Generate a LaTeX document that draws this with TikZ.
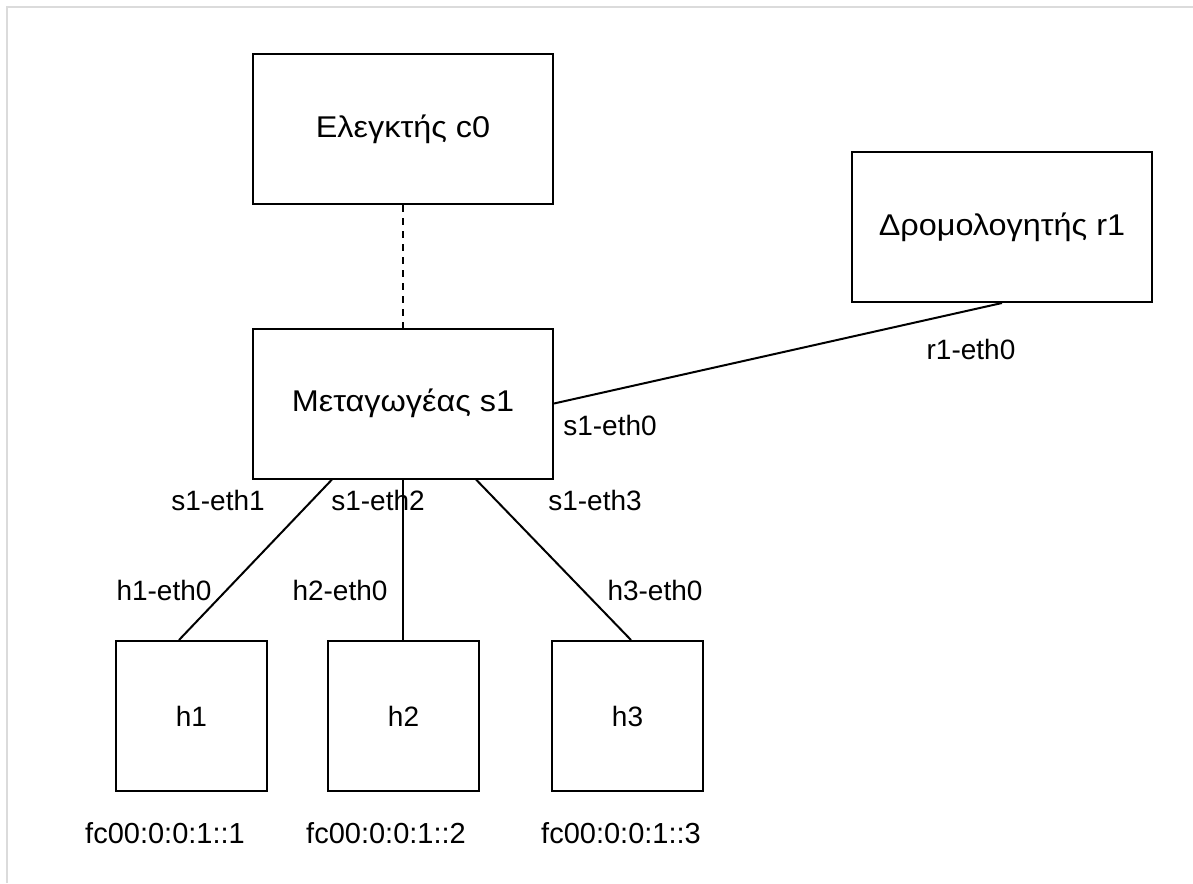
\documentclass[tikz,border=0pt]{standalone}
\usepackage{fontspec}
\setmainfont{Liberation Sans}
\newfontfamily\devicefont[FakeStretch=1.08]{Liberation Sans}
\usetikzlibrary{calc}
\begin{document}
\begin{tikzpicture}[x=1pt,y=-1pt,
  lbl/.style={font=\fontsize{28}{34}\selectfont},
  box/.style={lbl, draw=black, line width=2pt, minimum width=300pt,
    minimum height=150pt, inner sep=0pt},
  devbox/.style={box, font=\devicefont\fontsize{30}{36}\selectfont},
  hostbox/.style={box, minimum width=151pt, minimum height=150pt},
  port/.style={lbl, inner sep=0pt, text height=0.72em, text depth=0pt},
  addr/.style={port, font=\fontsize{29}{34}\selectfont},
  link/.style={line width=2pt},
  ctrl/.style={link, dash pattern=on 7pt off 6pt},
  frame/.style={draw=black!14, line width=2pt}]
\useasboundingbox (0,0) rectangle (1193,883);
\draw[frame] (7,883) -- (7,7) -- (1193,7);

% devices
\node[devbox] (c0) at (403,129) {Ελεγκτής c0};
\node[devbox] (r1) at (1002,227) {Δρομολογητής r1};
\node[devbox] (s1) at (403,403.5) {Μεταγωγέας s1};
\node[hostbox] (h1) at (191.5,716) {h1};
\node[hostbox] (h2) at (403.5,716) {h2};
\node[hostbox] (h3) at (627.5,716) {h3};

% links
\draw[ctrl] (c0.south) -- (s1.north);
\draw[link] (r1.south) -- (s1.east);
\draw[link] ($(s1.south west)+(80,0)$) -- ($(h1.north west)+(64,0)$);
\draw[link] (s1.south) -- (s1.south |- h2.north);
\draw[link] ($(s1.south west)+(224,0)$) -- ($(h3.north west)+(80,0)$);

% interface names
\node[port] (p-s1e0) at (610,432) {s1-eth0};
\node[port] (p-r1e0) at (971,356) {r1-eth0};
\node[port] (p-s1e1) at (218,507) {s1-eth1};
\node[port] (p-s1e2) at (378,507) {s1-eth2};
\node[port] (p-s1e3) at (595,507) {s1-eth3};
\node[port] (p-h1e0) at (164,597) {h1-eth0};
\node[port] (p-h2e0) at (340,597) {h2-eth0};
\node[port] (p-h3e0) at (655,597) {h3-eth0};

% host addresses
\node[addr] (a1) at (165,840) {fc00:0:0:1::1};
\node[addr] (a2) at (386,840) {fc00:0:0:1::2};
\node[addr] (a3) at (621,840) {fc00:0:0:1::3};
\end{tikzpicture}
\end{document}
